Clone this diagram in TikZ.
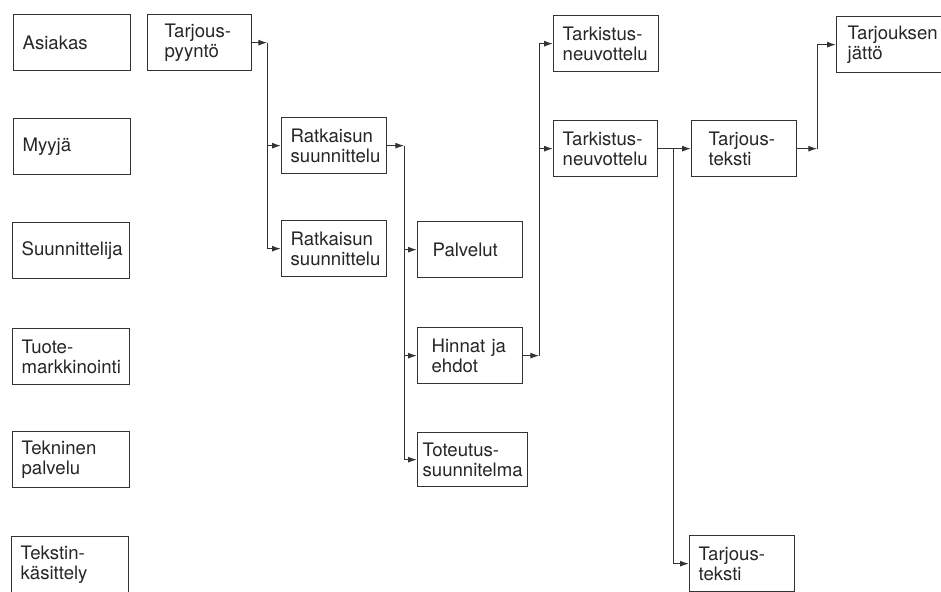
\documentclass[tikz,border=0pt]{standalone}
\usepackage{fontspec}
\setmainfont{TeX Gyre Heros}
\usetikzlibrary{arrows.meta}

\tikzset{
  box/.style 2 args={draw=black!80, line width=1.3pt, anchor=north west, align=left,
    inner xsep=#1, inner ysep=0pt, text width=#2, minimum height=56pt,
    font=\fontsize{18.6pt}{20.5pt}\selectfont, text=black!85},
  lane/.style={box={9pt}{99pt}},
  flow/.style={draw=black!80, line width=1.2pt, -{Latex[length=9pt,width=6pt]}},
}

\begin{document}
\begin{tikzpicture}[x=1pt,y=-1pt]
  \useasboundingbox (0,0) rectangle (941,591);
  % roles
  \node[lane] (asiakas) at (13,14) {Asiakas};
  \node[lane] (myyja) at (13,118) {Myyjä};
  \node[lane] (suunn) at (12,222) {Suunnittelija};
  \node[lane] (tuote) at (12,328) {Tuote-\\markkinointi};
  \node[lane] (tekn) at (12,431) {Tekninen\\palvelu};
  \node[lane] (tekstin) at (11,536) {Tekstin-\\käsittely};
  % tasks
  \node[box={17pt}{70pt}] (pyynto) at (147,14) {Tarjous-\\pyyntö};
  \node[box={9pt}{87pt}] (rs1) at (281,117) {Ratkaisun\\suunnittelu};
  \node[box={9pt}{87pt}] (rs2) at (281,220) {Ratkaisun\\suunnittelu};
  \node[box={15pt}{75pt}] (palvelut) at (417,221) {Palvelut};
  \node[box={14pt}{77pt}] (hinnat) at (417,327) {Hinnat ja\\ehdot};
  \node[box={5pt}{100pt}, minimum height=54pt] (toteutus) at (417,432) {Toteutus-\\suunnitelma};
  \node[box={9pt}{87pt}] (tark1) at (553,15) {Tarkistus-\\neuvottelu};
  \node[box={9pt}{86pt}] (tark2) at (553,120) {Tarkistus-\\neuvottelu};
  \node[box={17pt}{71pt}] (teksti1) at (691,120) {Tarjous-\\teksti};
  \node[box={11pt}{83pt}] (jatto) at (836,16) {Tarjouksen\\jättö};
  \node[box={9pt}{87pt}] (teksti2) at (689,535) {Tarjous-\\teksti};

  % connectors
  \coordinate (j1) at ([xshift=15pt]pyynto.east);
  \draw[flow] (pyynto.east) -- (j1);
  \draw[flow] (j1) |- (rs1.west);
  \draw[flow] (j1) |- (rs2.west);

  \coordinate (j2) at ([xshift=17pt]rs1.east);
  \draw[flow] (rs1.east) -- (j2);
  \foreach \n in {palvelut,hinnat,toteutus}
    \draw[flow] (j2) |- (\n.west);

  \coordinate (j3) at ([xshift=16pt]hinnat.east);
  \draw[flow] (hinnat.east) -- (j3);
  \foreach \n in {tark1,tark2}
    \draw[flow] (j3) |- (\n.west);

  \coordinate (j4) at ([xshift=15pt]tark2.east);
  \draw[flow] (tark2.east) -- (teksti1.west);
  \draw[flow] (j4) |- (teksti2.west);

  \coordinate (j5) at ([xshift=20pt]teksti1.east);
  \draw[flow] (teksti1.east) -- (j5);
  \draw[flow] (j5) |- (jatto.west);
\end{tikzpicture}
\end{document}
